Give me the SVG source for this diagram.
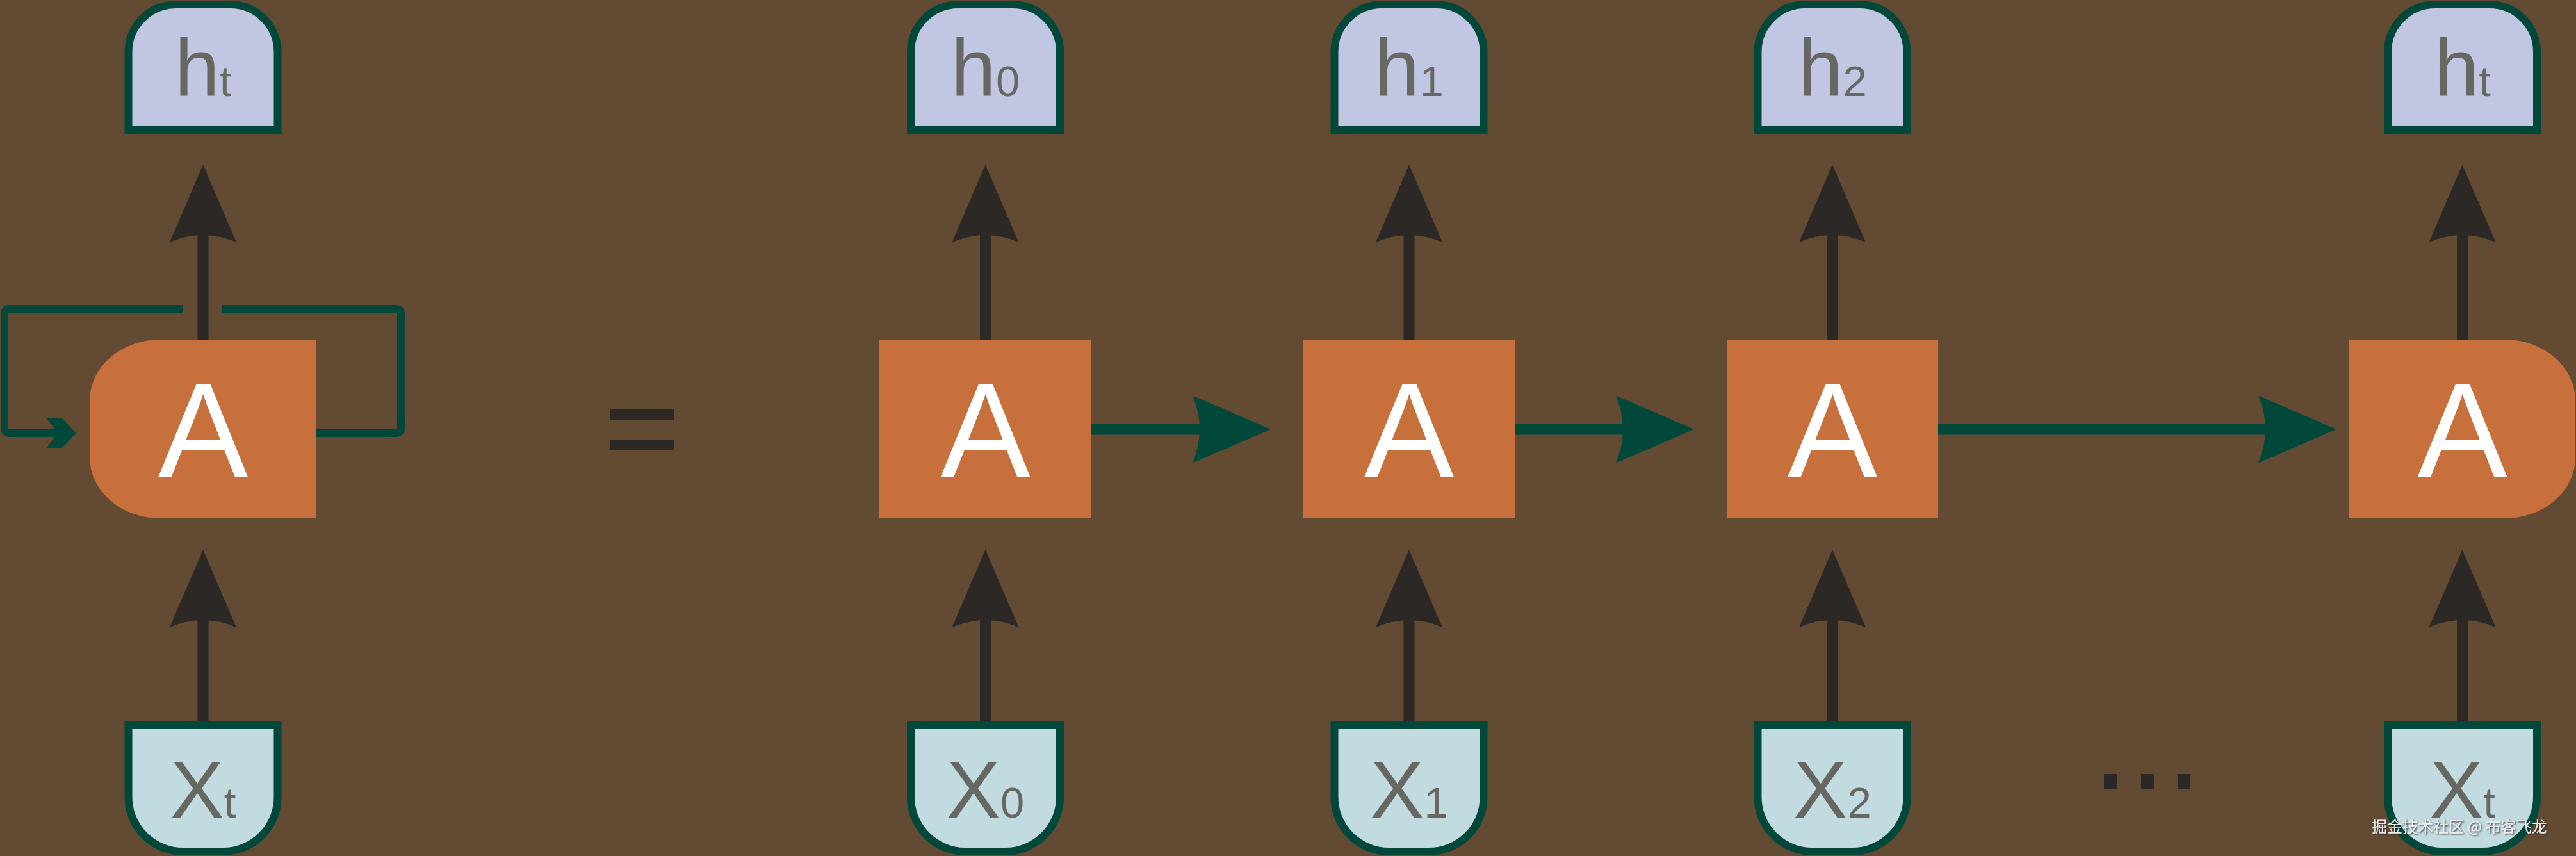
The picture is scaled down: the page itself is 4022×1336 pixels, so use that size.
<svg xmlns="http://www.w3.org/2000/svg" xmlns:xlink="http://www.w3.org/1999/xlink" width="4022" height="1336" viewBox="0 0 4022 1336">
<style>
.bg{fill:#624b32}
.cell{fill:#c8703c}
.cellTxt{font-family:"Liberation Sans",Arial,sans-serif;font-size:210px;fill:#ffffff;text-anchor:middle}
.hbox{fill:#c1c6e3;stroke:#01473a;stroke-width:12}
.xbox{fill:#c1dbe0;stroke:#01473a;stroke-width:12}
.lbl{font-family:"Liberation Sans",Arial,sans-serif;font-size:126px;fill:#686862;text-anchor:middle}
.sub{font-size:67px}
.blk{stroke:#2b2825;stroke-width:17;fill:none}
.blkFill{fill:#2b2825}
.grn{stroke:#01473a;stroke-width:17;fill:none}
.grnFill{fill:#01473a}
.loop{stroke:#01473a;stroke-width:12;fill:none;stroke-linejoin:round}
.wm{font-family:"Noto Sans CJK SC","Liberation Sans",sans-serif;font-size:24px;fill:#ececec}
</style>
<defs>
<path id="ahUp" d="M0 0 L52 121 Q0 99 -52 121 Z"/>
<path id="ahRight" d="M0 0 L-122 -52.5 Q-100 0 -122 52.5 Z"/>
<filter id="shadow" x="-5%" y="-30%" width="110%" height="160%">
  <feDropShadow dx="1.5" dy="1.5" stdDeviation="1" flood-color="#222222" flood-opacity="0.9"/>
</filter>
</defs>
<rect class="bg" x="0" y="0" width="4022" height="1336"/>

<g id="connectors">
  <line class="blk" x1="317" y1="531" x2="317" y2="360"/>
  <use xlink:href="#ahUp" href="#ahUp" class="blkFill" x="317" y="257"/>
  <line class="blk" x1="1538.5" y1="531" x2="1538.5" y2="360"/>
  <use xlink:href="#ahUp" href="#ahUp" class="blkFill" x="1538.5" y="257"/>
  <line class="blk" x1="2200" y1="531" x2="2200" y2="360"/>
  <use xlink:href="#ahUp" href="#ahUp" class="blkFill" x="2200" y="257"/>
  <line class="blk" x1="2861" y1="531" x2="2861" y2="360"/>
  <use xlink:href="#ahUp" href="#ahUp" class="blkFill" x="2861" y="257"/>
  <line class="blk" x1="3844.5" y1="531" x2="3844.5" y2="360"/>
  <use xlink:href="#ahUp" href="#ahUp" class="blkFill" x="3844.5" y="257"/>
  <line class="blk" x1="317" y1="1130" x2="317" y2="960"/>
  <use xlink:href="#ahUp" href="#ahUp" class="blkFill" x="317" y="858"/>
  <line class="blk" x1="1538.5" y1="1130" x2="1538.5" y2="960"/>
  <use xlink:href="#ahUp" href="#ahUp" class="blkFill" x="1538.5" y="858"/>
  <line class="blk" x1="2200" y1="1130" x2="2200" y2="960"/>
  <use xlink:href="#ahUp" href="#ahUp" class="blkFill" x="2200" y="858"/>
  <line class="blk" x1="2861" y1="1130" x2="2861" y2="960"/>
  <use xlink:href="#ahUp" href="#ahUp" class="blkFill" x="2861" y="858"/>
  <line class="blk" x1="3844.5" y1="1130" x2="3844.5" y2="960"/>
  <use xlink:href="#ahUp" href="#ahUp" class="blkFill" x="3844.5" y="858"/>
  <line class="grn" x1="1703" y1="670" x2="1880" y2="670"/>
  <use xlink:href="#ahRight" href="#ahRight" class="grnFill" x="1984" y="670"/>
  <line class="grn" x1="2364" y1="670" x2="2542" y2="670"/>
  <use xlink:href="#ahRight" href="#ahRight" class="grnFill" x="2645" y="670"/>
  <line class="grn" x1="3025" y1="670" x2="3545" y2="670"/>
  <use xlink:href="#ahRight" href="#ahRight" class="grnFill" x="3648" y="670"/>
  <path class="loop" d="M286 482 L15 482 Q7 482 7 490 L7 668 Q7 676 15 676 L92 676"/>
  <polygon class="grnFill" points="73,653 97,653 119,676 97,699 73,699 90,676"/>
  <path class="loop" d="M347 482 L618 482 Q626 482 626 490 L626 668 Q626 676 618 676 L493 676"/>
</g>

<g id="node-h-loop">
  <path class="hbox" d="M200.5 203 L200.5 81 A74 74 0 0 1 274.5 7 L359.5 7 A74 74 0 0 1 433.5 81 L433.5 203 Z"/>
  <text class="lbl" x="317" y="150">h<tspan class="sub">t</tspan></text>
</g>
<g id="node-A-loop">
  <path class="cell" d="M494 530 L250 530 A110 95 0 0 0 140 625 L140 714 A110 95 0 0 0 250 809 L494 809 Z"/>
  <text class="cellTxt" x="317" y="744">A</text>
</g>
<g id="node-x-loop">
  <path class="xbox" d="M200.5 1132 L433.5 1132 L433.5 1244 A85 85 0 0 1 348.5 1329 L285.5 1329 A85 85 0 0 1 200.5 1244 Z"/>
  <text class="lbl" x="317" y="1276">X<tspan class="sub">t</tspan></text>
</g>

<g id="equals">
  <rect class="blkFill" x="952" y="639" width="100" height="17"/>
  <rect class="blkFill" x="952" y="686" width="100" height="17"/>
</g>

<g id="node-h0">
  <path class="hbox" d="M1422 203 L1422 81 A74 74 0 0 1 1496 7 L1581 7 A74 74 0 0 1 1655 81 L1655 203 Z"/>
  <text class="lbl" x="1538.5" y="150">h<tspan class="sub">0</tspan></text>
</g>
<g id="node-A0">
  <rect class="cell" x="1373" y="530" width="331" height="279"/>
  <text class="cellTxt" x="1538.5" y="744">A</text>
</g>
<g id="node-x0">
  <path class="xbox" d="M1422 1132 L1655 1132 L1655 1244 A85 85 0 0 1 1570 1329 L1507 1329 A85 85 0 0 1 1422 1244 Z"/>
  <text class="lbl" x="1538.5" y="1276">X<tspan class="sub">0</tspan></text>
</g>

<g id="node-h1">
  <path class="hbox" d="M2083.5 203 L2083.5 81 A74 74 0 0 1 2157.5 7 L2242.5 7 A74 74 0 0 1 2316.5 81 L2316.5 203 Z"/>
  <text class="lbl" x="2200" y="150">h<tspan class="sub">1</tspan></text>
</g>
<g id="node-A1">
  <rect class="cell" x="2035" y="530" width="330" height="279"/>
  <text class="cellTxt" x="2200" y="744">A</text>
</g>
<g id="node-x1">
  <path class="xbox" d="M2083.5 1132 L2316.5 1132 L2316.5 1244 A85 85 0 0 1 2231.5 1329 L2168.5 1329 A85 85 0 0 1 2083.5 1244 Z"/>
  <text class="lbl" x="2200" y="1276">X<tspan class="sub">1</tspan></text>
</g>

<g id="node-h2">
  <path class="hbox" d="M2744.5 203 L2744.5 81 A74 74 0 0 1 2818.5 7 L2903.5 7 A74 74 0 0 1 2977.5 81 L2977.5 203 Z"/>
  <text class="lbl" x="2861" y="150">h<tspan class="sub">2</tspan></text>
</g>
<g id="node-A2">
  <rect class="cell" x="2696" y="530" width="330" height="279"/>
  <text class="cellTxt" x="2861" y="744">A</text>
</g>
<g id="node-x2">
  <path class="xbox" d="M2744.5 1132 L2977.5 1132 L2977.5 1244 A85 85 0 0 1 2892.5 1329 L2829.5 1329 A85 85 0 0 1 2744.5 1244 Z"/>
  <text class="lbl" x="2861" y="1276">X<tspan class="sub">2</tspan></text>
</g>

<g id="ellipsis">
  <rect class="blkFill" x="3285" y="1208" width="20" height="23"/>
  <rect class="blkFill" x="3343" y="1208" width="20" height="23"/>
  <rect class="blkFill" x="3400" y="1208" width="20" height="23"/>
</g>

<g id="node-ht">
  <path class="hbox" d="M3728 203 L3728 81 A74 74 0 0 1 3802 7 L3887 7 A74 74 0 0 1 3961 81 L3961 203 Z"/>
  <text class="lbl" x="3844.5" y="150">h<tspan class="sub">t</tspan></text>
</g>
<g id="node-At">
  <path class="cell" d="M3667 530 L3911 530 A110 95 0 0 1 4021 625 L4021 714 A110 95 0 0 1 3911 809 L3667 809 Z"/>
  <text class="cellTxt" x="3844.5" y="744">A</text>
</g>
<g id="node-xt">
  <path class="xbox" d="M3728 1132 L3961 1132 L3961 1244 A85 85 0 0 1 3876 1329 L3813 1329 A85 85 0 0 1 3728 1244 Z"/>
  <text class="lbl" x="3844.5" y="1276">X<tspan class="sub">t</tspan></text>
</g>

<text class="wm" x="3703" y="1299" filter="url(#shadow)">掘金技术社区 @ 布客飞龙</text>
</svg>
